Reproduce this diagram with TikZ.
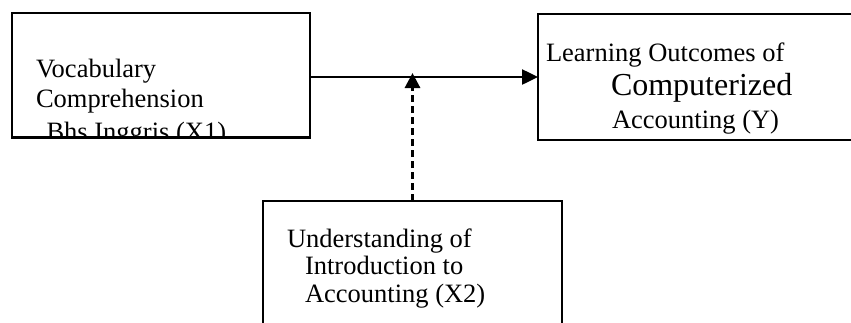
\documentclass[tikz,border=0pt]{standalone}
\usepackage{fontspec}
\setmainfont{Liberation Serif}
\usetikzlibrary{arrows.meta}
\tikzset{
  boxst/.style={draw=black, line width=2.3pt, rectangle, inner sep=0pt, outer sep=0pt, anchor=north west},
  txt/.style={anchor=base west, inner sep=0pt, outer sep=0pt, font=\fontsize{26.5}{30}\selectfont},
  bigtxt/.style={anchor=base west, inner sep=0pt, outer sep=0pt, font=\fontsize{32}{36}\selectfont},
  conn/.style={line width=2.5pt, -{Triangle[length=16pt,width=15pt]}},
  dconn/.style={line width=3pt, dash pattern=on 7pt off 4pt, -{Triangle[length=15pt,width=15pt]}}
}
\begin{document}
\begin{tikzpicture}[x=1pt,y=-1pt]
\useasboundingbox (0,0) rectangle (851,322);
% box 1 text (clipped by the box)
\begin{scope}
  \clip (12,13) rectangle (310,136);
  \node[txt] (t1a) at (36,77) {Vocabulary};
  \node[txt] (t1b) at (36,107) {Comprehension};
  \node[txt] (t1c) at (46.5,140) {Bhs Inggris (X1)};
\end{scope}
\node[boxst, minimum width=298pt, minimum height=124.5pt] (b1) at (12,13) {};
% box 2
\node[boxst, minimum width=340pt, minimum height=126pt] (b2) at (538,14) {};
\node[txt] (t2a) at (546,61) {Learning Outcomes of};
\node[bigtxt] (t2b) at (611,95) {Computerized};
\node[txt] (t2c) at (612,128) {Accounting (Y)};
% box 3
\node[boxst, minimum width=299pt, minimum height=150pt] (b3) at (263,201) {};
\node[txt] (t3a) at (287,247) {Understanding of};
\node[txt] (t3b) at (305,274) {Introduction to};
\node[txt] (t3c) at (305,302) {Accounting (X2)};
% connectors
\coordinate (j) at (412.5,73);
\draw[conn] (b1.east |- b2.west) -- (b2.west);
\draw[dconn] (b3.north) -- (j);
\end{tikzpicture}
\end{document}
